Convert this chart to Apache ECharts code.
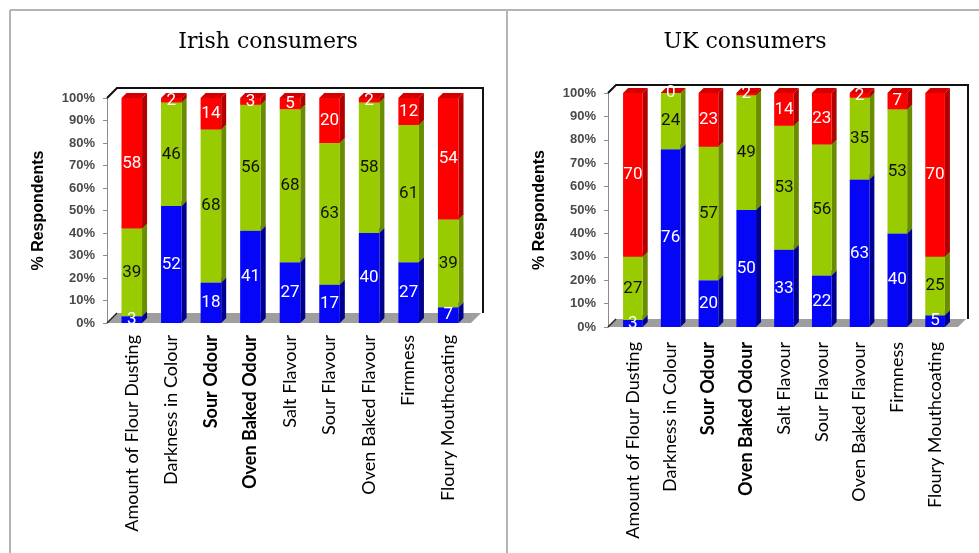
<!DOCTYPE html>
<html>
<head>
<meta charset="utf-8">
<script src="https://cdn.jsdelivr.net/npm/echarts@6/dist/echarts.min.js"></script>
<style>html,body{margin:0;padding:0;background:#fff}#c{width:979px;height:553px}</style>
</head>
<body>
<div id="c"></div>
<script>
const categories = ['Amount of Flour Dusting','Darkness in Colour','Sour Odour','Oven Baked Odour','Salt Flavour','Sour Flavour','Oven Baked Flavour','Firmness','Floury Mouthcoating'];
const boldCategories = ['Sour Odour','Oven Baked Odour'];
const titles = ['Irish consumers','UK consumers'];
const yAxisName = '% Respondents';

const irishBlue  = [3, 52, 18, 41, 27, 17, 40, 27, 7];
const irishGreen = [39, 46, 68, 56, 68, 63, 58, 61, 39];
const irishRed   = [58, 2, 14, 3, 5, 20, 2, 12, 54];

const ukBlue  = [3, 76, 20, 50, 33, 22, 63, 40, 5];
const ukGreen = [27, 24, 57, 49, 53, 56, 35, 53, 25];
const ukRed   = [70, 0, 23, 2, 14, 23, 2, 7, 70];

const yMin = 0, yMax = 100, yInterval = 10;

const COLORS = {
  blue:  {front:'#0505f8', side:'#00008f', top:'#2a2ad0', label:'#ffffff'},
  green: {front:'#99cc00', side:'#6a8c00', top:'#7fab00', label:'#111111'},
  red:   {front:'#ff0000', side:'#b00000', top:'#d40000', label:'#ffffff'}
};

function makeSeries(values, bases, col, axisIdx, name) {
  return {
    type: 'custom',
    name: name,
    xAxisIndex: axisIdx,
    yAxisIndex: axisIdx,
    data: values.map((v, i) => [i, bases[i], v]),
    encode: {x: 0, y: [1, 2]},
    z: 3,
    renderItem: function (params, api) {
      const i = api.value(0), b = api.value(1), v = api.value(2);
      const top = Math.min(yMax, b + v);
      const pb = api.coord([i, b]);
      const pt = api.coord([i, top]);
      const bw = api.size([1, 0])[0] * 0.52;
      const xl = pb[0] - bw / 2, xr = pb[0] + bw / 2;
      const d = 5;
      const h = pb[1] - pt[1];
      return {
        type: 'group',
        children: [
          {type: 'polygon', shape: {points: [[xl, pt[1]], [xl + d, pt[1] - d], [xr + d, pt[1] - d], [xr, pt[1]]]}, style: {fill: col.top}},
          {type: 'polygon', shape: {points: [[xr, pb[1]], [xr + d, pb[1] - d], [xr + d, pt[1] - d], [xr, pt[1]]]}, style: {fill: col.side}},
          {type: 'rect', shape: {x: xl, y: pt[1], width: bw, height: h}, style: {fill: col.front}},
          {type: 'text', z2: 10, style: {text: String(v), x: pb[0], y: (pb[1] + pt[1]) / 2, align: 'center', verticalAlign: 'middle', fill: col.label, fontSize: 17, fontFamily: 'Roboto'}}
        ]
      };
    }
  };
}

function sum(a, b) { return a.map((v, i) => v + b[i]); }
const zeros = categories.map(() => 0);

const grids = [
  {left: 112, width: 356, top: 98, height: 225},
  {left: 614, width: 340, top: 93, height: 234}
];

function xAxis(idx) {
  return {
    type: 'category', gridIndex: idx,
    data: categories.map(c => boldCategories.includes(c) ? {value: c, textStyle: {fontWeight: 'bold'}} : c),
    axisLine: {show: false}, axisTick: {show: false},
    axisLabel: {interval: 0, rotate: 90, margin: idx === 0 ? 12 : 15, fontSize: 18, fontFamily: 'Lato', color: '#000'}
  };
}
function yAxis(idx) {
  return {
    type: 'value', gridIndex: idx, min: yMin, max: yMax, interval: yInterval,
    offset: idx === 0 ? 5 : 6,
    axisLine: {show: true, lineStyle: {color: '#8c8c8c', width: 1}},
    axisTick: {show: true, length: 4, lineStyle: {color: '#8c8c8c'}},
    splitLine: {show: false},
    axisLabel: {formatter: '{value}%', fontSize: 13, fontWeight: 'bold', color: '#4a4a4a', fontFamily: 'Liberation Sans', margin: 12},
    name: yAxisName, nameLocation: 'middle', nameRotate: 90, nameGap: 60,
    nameTextStyle: {fontSize: 16, fontWeight: 'bold', color: '#000', fontFamily: 'Liberation Sans'}
  };
}

function frame(g, off, dep) {
  const x0 = g.left - off, y0 = g.top, yb = g.top + g.height;
  const x1 = g.left + g.width + off;
  return [
    {type: 'polygon', z: 1, shape: {points: [[x0, yb], [x0 + dep, yb - dep], [x1 + dep - 2, yb - dep], [x1 - 2, yb]]}, style: {fill: '#9e9e9e'}},
    {type: 'line', z: 1, shape: {x1: x0, y1: yb, x2: x0 + dep, y2: yb - dep}, style: {stroke: '#222', lineWidth: 1.5}},
    {type: 'polyline', z: 1, shape: {points: [[x0, y0], [x0 + dep, y0 - dep], [x1 + dep, y0 - dep], [x1 + dep, yb - dep]]}, style: {stroke: '#111', lineWidth: 2, fill: null}}
  ];
}

const graphic = [
  {type: 'line', shape: {x1: 10, y1: 10, x2: 979, y2: 10}, style: {stroke: '#b4b4b4', lineWidth: 2}},
  {type: 'line', shape: {x1: 10, y1: 10, x2: 10, y2: 553}, style: {stroke: '#b4b4b4', lineWidth: 2}},
  {type: 'line', shape: {x1: 507, y1: 10, x2: 507, y2: 553}, style: {stroke: '#b4b4b4', lineWidth: 2}},
  {type: 'text', style: {text: titles[0], x: 268, y: 42, align: 'center', verticalAlign: 'middle', fontSize: 22, fontFamily: 'DejaVu Serif', fill: '#000'}},
  {type: 'text', style: {text: titles[1], x: 745, y: 42, align: 'center', verticalAlign: 'middle', fontSize: 22, fontFamily: 'DejaVu Serif', fill: '#000'}}
].concat(frame(grids[0], 5, 10), frame(grids[1], 6, 8));

const chart = echarts.init(document.getElementById('c'), null, {renderer: 'canvas'});
chart.setOption({
  animation: false,
  backgroundColor: '#fff',
  grid: grids,
  xAxis: [xAxis(0), xAxis(1)],
  yAxis: [yAxis(0), yAxis(1)],
  graphic: graphic,
  series: [
    makeSeries(irishBlue, zeros, COLORS.blue, 0, 'Irish blue'),
    makeSeries(irishGreen, irishBlue, COLORS.green, 0, 'Irish green'),
    makeSeries(irishRed, sum(irishBlue, irishGreen), COLORS.red, 0, 'Irish red'),
    makeSeries(ukBlue, zeros, COLORS.blue, 1, 'UK blue'),
    makeSeries(ukGreen, ukBlue, COLORS.green, 1, 'UK green'),
    makeSeries(ukRed, sum(ukBlue, ukGreen), COLORS.red, 1, 'UK red')
  ]
});
</script>
</body>
</html>
